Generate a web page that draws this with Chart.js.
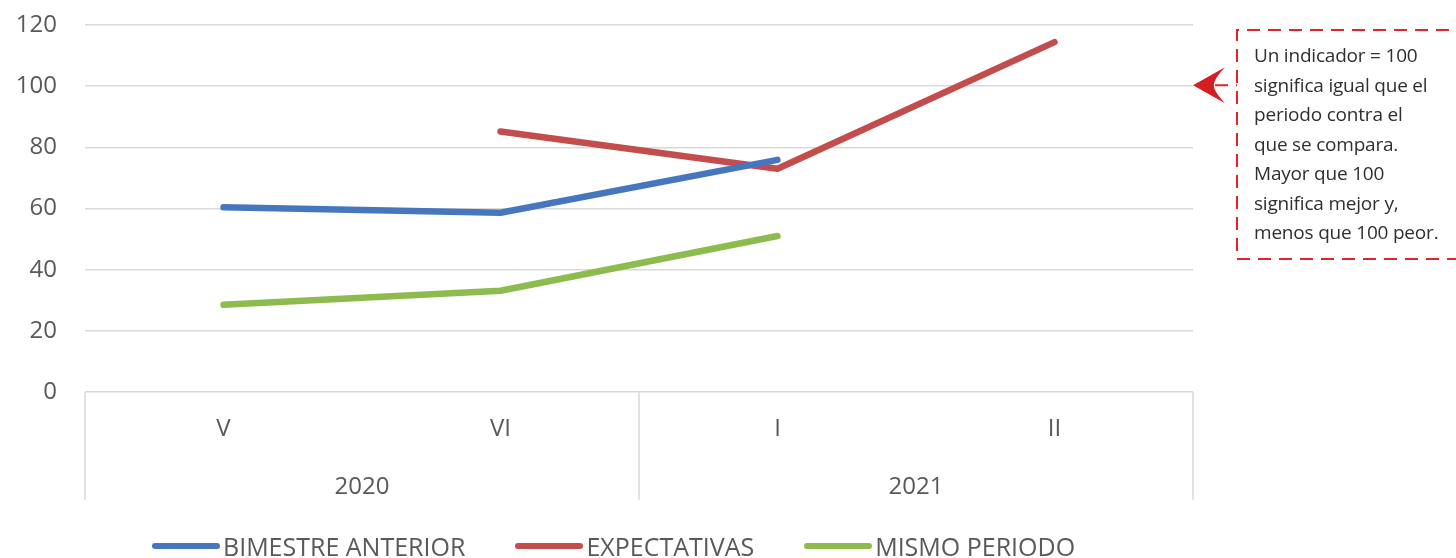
<!DOCTYPE html>
<html>
<head>
<meta charset="utf-8">
<script src="https://cdn.jsdelivr.net/npm/chart.js@4.4.1/dist/chart.umd.min.js"></script>
<style>
  html, body { margin: 0; padding: 0; background: #ffffff; }
  #wrap { position: relative; width: 1456px; height: 558px; overflow: hidden; }
  #chart { position: absolute; left: 0; top: 0; }
  #note {
    position: absolute; left: 1254px; top: 41px; width: 200px;
    font-family: 'Open Sans', sans-serif; font-size: 19px; line-height: 29.5px;
    color: #2f2f2f; white-space: nowrap; letter-spacing: -0.2px;
  }
  #legend {
    position: absolute; left: 152px; top: 532px; height: 28px;
    display: flex; align-items: center; gap: 50px;
    font-family: 'Open Sans', sans-serif; font-size: 25px; color: #595959;
  }
  .li { display: flex; align-items: center; }
  .sw { width: 68px; height: 6px; border-radius: 3px; margin-right: 3px; }
</style>
</head>
<body>
<div id="wrap">
  <canvas id="chart" width="1456" height="558"></canvas>
  <div id="note">Un indicador = 100<br>significa igual que el<br>periodo contra el<br>que se compara.<br>Mayor que 100<br>significa mejor y,<br>menos que 100 peor.</div>
  <div id="legend"></div>
</div>
<script>
// ---- data ----
const categories = ['V', 'VI', 'I', 'II'];
const years = ['2020', '2021'];
const yearSpans = [2, 2];
const bimestreAnterior = [60.4, 58.6, 75.9, null];
const expectativas = [null, 85.2, 73.0, 114.4];
const mismoPeriodo = [28.5, 33.1, 51.0, null];
const yTicks = [0, 20, 40, 60, 80, 100, 120];
const seriesNames = ['BIMESTRE ANTERIOR', 'EXPECTATIVAS', 'MISMO PERIODO'];
const seriesColors = ['#4677BE', '#C34D4D', '#8DBB4E'];
const referenceLevel = 100;

const groupPlugin = {
  id: 'groups',
  afterDraw(chart) {
    const ctx = chart.ctx;
    const x = chart.scales.x, y = chart.scales.y;
    const bottom = chart.chartArea.bottom;
    const half = (x.getPixelForValue(1) - x.getPixelForValue(0)) / 2;
    ctx.save();
    ctx.strokeStyle = '#D9D9D9';
    ctx.lineWidth = 1.5;
    let idx = 0;
    const bounds = [x.getPixelForValue(0) - half];
    yearSpans.forEach(s => { idx += s; bounds.push(x.getPixelForValue(idx - 1) + half); });
    bounds.forEach(b => {
      ctx.beginPath(); ctx.moveTo(b, bottom); ctx.lineTo(b, bottom + 108); ctx.stroke();
    });
    ctx.fillStyle = '#595959';
    ctx.font = '24px "Open Sans", sans-serif';
    ctx.textAlign = 'center';
    ctx.textBaseline = 'middle';
    years.forEach((yr, i) => {
      ctx.fillText(yr, (bounds[i] + bounds[i + 1]) / 2, bottom + 95);
    });
    // annotation arrow + dashed box
    const red = '#E0242B';
    const ay = y.getPixelForValue(referenceLevel) - 1;
    const tipX = chart.chartArea.right;
    ctx.fillStyle = '#D41E24';
    ctx.beginPath();
    ctx.moveTo(tipX, ay);
    ctx.lineTo(tipX + 32, ay - 18);
    ctx.quadraticCurveTo(tipX + 20, ay - 5, tipX + 21, ay);
    ctx.quadraticCurveTo(tipX + 20, ay + 5, tipX + 32, ay + 18);
    ctx.closePath();
    ctx.fill();
    ctx.strokeStyle = red;
    ctx.lineWidth = 2;
    ctx.setLineDash([13, 8]);
    ctx.beginPath(); ctx.moveTo(tipX + 22, ay); ctx.lineTo(1237, ay); ctx.stroke();
    ctx.beginPath();
    ctx.moveTo(1470, 30); ctx.lineTo(1237, 30); ctx.lineTo(1237, 259); ctx.lineTo(1470, 259);
    ctx.stroke();
    ctx.restore();
  }
};

const allSeries = [bimestreAnterior, expectativas, mismoPeriodo];
const chart = new Chart(document.getElementById('chart'), {
  type: 'line',
  data: {
    labels: categories,
    datasets: allSeries.map((d, i) => ({
      label: seriesNames[i],
      data: d,
      borderColor: seriesColors[i],
      backgroundColor: seriesColors[i],
      borderWidth: 6.5,
      borderCapStyle: 'round',
      borderJoinStyle: 'round',
      pointRadius: 0,
      tension: 0,
      spanGaps: false
    }))
  },
  options: {
    responsive: false,
    animation: false,
    layout: { padding: { left: 0, right: 263, top: 25, bottom: 0 } },
    plugins: { legend: { display: false }, tooltip: { enabled: false } },
    scales: {
      x: {
        offset: true,
        grid: { display: false, drawTicks: false },
        border: { display: false },
        ticks: { color: '#595959', font: { family: 'Open Sans', size: 24 }, padding: 23, maxRotation: 0 },
        afterFit(s) { s.height = 166; }
      },
      y: {
        min: 0, max: 120,
        afterBuildTicks(s) { s.ticks = yTicks.map(v => ({ value: v })); },
        grid: { color: '#D9D9D9', lineWidth: 1.5, drawTicks: true, tickLength: 28, tickColor: 'rgba(0,0,0,0)' },
        border: { display: false },
        ticks: { color: '#595959', font: { family: 'Open Sans', size: 24 }, padding: 0 },
        afterFit(s) { s.width = 85; }
      }
    }
  },
  plugins: [groupPlugin]
});

// HTML legend built from the chart's datasets
const lg = document.getElementById('legend');
chart.data.datasets.forEach(ds => {
  const item = document.createElement('div');
  item.className = 'li';
  const sw = document.createElement('span');
  sw.className = 'sw';
  sw.style.background = ds.borderColor;
  const tx = document.createElement('span');
  tx.textContent = ds.label;
  item.appendChild(sw); item.appendChild(tx);
  lg.appendChild(item);
});
</script>
</body>
</html>
